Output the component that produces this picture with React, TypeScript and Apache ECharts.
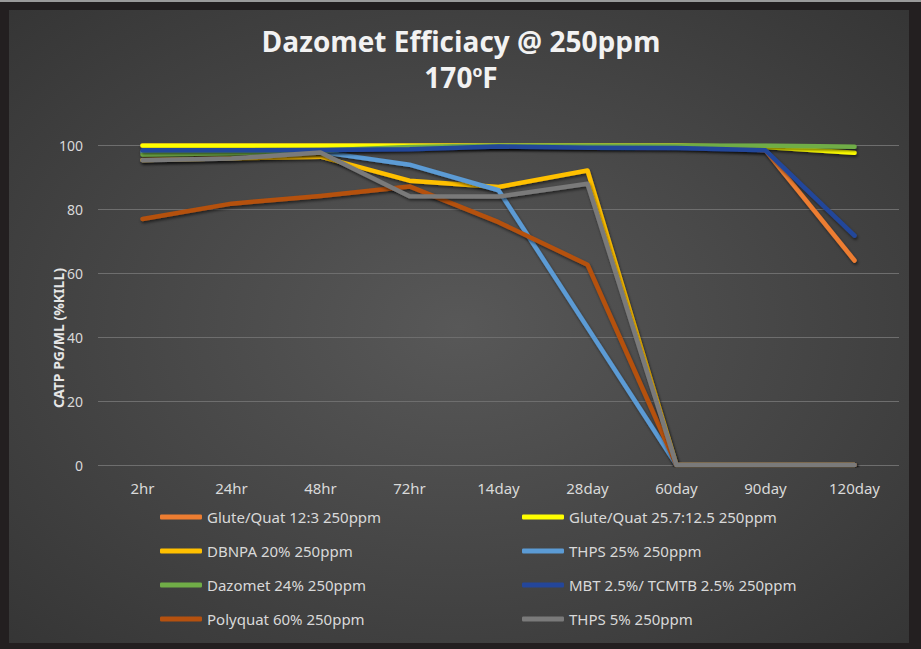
import React, { useEffect, useRef } from "react";
import * as echarts from "echarts";

const categories = ["2hr", "24hr", "48hr", "72hr", "14day", "28day", "60day", "90day", "120day"];
const yTicks = [0, 20, 40, 60, 80, 100];

const seriesNames = [
  "Glute/Quat 12:3 250ppm",
  "Glute/Quat 25.7:12.5 250ppm",
  "DBNPA 20% 250ppm",
  "THPS 25% 250ppm",
  "Dazomet 24% 250ppm",
  "MBT 2.5%/ TCMTB 2.5% 250ppm",
  "Polyquat 60% 250ppm",
  "THPS 5% 250ppm",
];

const gluteQuat123 = [100, 100, 100, 100, 100, 100, 100, 98.5, 64];
const gluteQuat257 = [100, 100, 100, 100, 100, 100, 100, 99.5, 97.7];
const dbnpa20 = [95.5, 96, 96.5, 89, 87, 92.2, 0, 0, 0];
const thps25 = [98, 98, 98, 94, 86, 43, 0, 0, 0];
const dazomet24 = [97.2, 97.6, 98.4, 99.5, 100, 100, 100, 100, 99.6];
const mbtTcmtb = [98.5, 98.5, 98.6, 98.8, 99.7, 99.3, 99.2, 98.5, 71.8];
const polyquat60 = [77, 81.8, 84.2, 87.2, 76, 62.7, 0, 0, 0];
const thps5 = [95.4, 95.9, 97.8, 84.1, 84, 88, 0, 0, 0];

const seriesValues = [gluteQuat123, gluteQuat257, dbnpa20, thps25, dazomet24, mbtTcmtb, polyquat60, thps5];
const seriesColors = ["#ED7D31", "#FFFF00", "#FFC000", "#5B9BD5", "#70AD47", "#24469A", "#B5510F", "#7A7A7A"];

const FONT = "'Noto Sans', 'DejaVu Sans', sans-serif";
const TITLE_FONT = "'Open Sans', 'Noto Sans', sans-serif";

export default function App() {
  const ref = useRef<HTMLDivElement>(null);

  useEffect(() => {
    document.body.style.margin = "0";
    if (!ref.current) return;
    const chart = echarts.init(ref.current, undefined, { renderer: "svg" });

    const legendText = { color: "#D9D9D9", fontSize: 15, fontFamily: FONT, lineHeight: 16 };

    const option: any = {
      animation: false,
      backgroundColor: "#231F20",
      graphic: [
        {
          type: "rect",
          z: -10,
          silent: true,
          shape: { x: 9, y: 10, width: 900, height: 633 },
          style: {
            fill: {
              type: "radial",
              x: 0.5,
              y: 0.5,
              r: 0.9,
              colorStops: [
                { offset: 0, color: "#585858" },
                { offset: 1, color: "#2C2C2C" },
              ],
            },
          },
        },
        {
          type: "rect",
          z: -10,
          silent: true,
          shape: { x: 0, y: 0, width: 921, height: 2 },
          style: { fill: "#9A9A9A" },
        },
        {
          type: "text",
          x: 461,
          y: 41,
          style: {
            text: "Dazomet Efficiacy @ 250ppm",
            fill: "#F2F2F2",
            fontSize: 28,
            fontWeight: "bold",
            fontFamily: TITLE_FONT,
            align: "center",
            verticalAlign: "middle",
            lineHeight: 28,
          },
        },
        {
          type: "text",
          x: 461,
          y: 77,
          style: {
            text: "170{sup|o}F",
            fill: "#F2F2F2",
            fontSize: 28,
            fontWeight: "bold",
            fontFamily: TITLE_FONT,
            align: "center",
            verticalAlign: "middle",
            lineHeight: 28,
            rich: {
              sup: {
                fill: "#F2F2F2",
                fontSize: 16,
                fontWeight: "bold",
                fontFamily: TITLE_FONT,
                verticalAlign: "top",
                lineHeight: 4,
              },
            },
          },
        },
        {
          type: "text",
          x: 58,
          y: 338,
          rotation: Math.PI / 2,
          style: {
            text: "CATP PG/ML (%KILL)",
            fill: "#E6E6E6",
            fontSize: 14,
            fontWeight: "bold",
            fontFamily: FONT,
            align: "center",
            verticalAlign: "middle",
          },
        },
      ],
      grid: { left: 98, right: 22, top: 145.5, bottom: 184, containLabel: false },
      xAxis: {
        type: "category",
        data: categories,
        boundaryGap: true,
        axisLine: { show: false },
        axisTick: { show: false },
        axisLabel: { color: "#D9D9D9", fontSize: 15, fontFamily: FONT, margin: 15 },
      },
      yAxis: {
        type: "value",
        min: yTicks[0],
        max: yTicks[yTicks.length - 1],
        interval: 20,
        axisLine: { show: false },
        axisTick: { show: false },
        axisLabel: { color: "#D9D9D9", fontSize: 14, fontFamily: FONT, margin: 15 },
        splitLine: { lineStyle: { color: "#6E6E6E", width: 1 } },
      },
      legend: [
        {
          orient: "vertical",
          left: 160,
          top: 509,
          padding: 0,
          itemWidth: 42,
          itemHeight: 5,
          itemGap: 18,
          icon: "roundRect",
          textStyle: legendText,
          data: [0, 2, 4, 6].map((i) => seriesNames[i]),
        },
        {
          orient: "vertical",
          left: 522,
          top: 509,
          padding: 0,
          itemWidth: 42,
          itemHeight: 5,
          itemGap: 18,
          icon: "roundRect",
          textStyle: legendText,
          data: [1, 3, 5, 7].map((i) => seriesNames[i]),
        },
      ],
      series: seriesNames.map((name, i) => ({
        name,
        type: "line",
        data: seriesValues[i],
        symbol: "none",
        smooth: false,
        color: seriesColors[i],
        lineStyle: {
          width: 4.5,
          color: seriesColors[i],
          cap: "round",
          join: "round",
          shadowColor: "rgba(0,0,0,0.55)",
          shadowBlur: 3,
          shadowOffsetX: 1,
          shadowOffsetY: 2,
        },
        z: 2 + i,
      })),
    };

    chart.setOption(option);
    return () => chart.dispose();
  }, []);

  return <div ref={ref} style={{ width: 921, height: 649 }} />;
}
